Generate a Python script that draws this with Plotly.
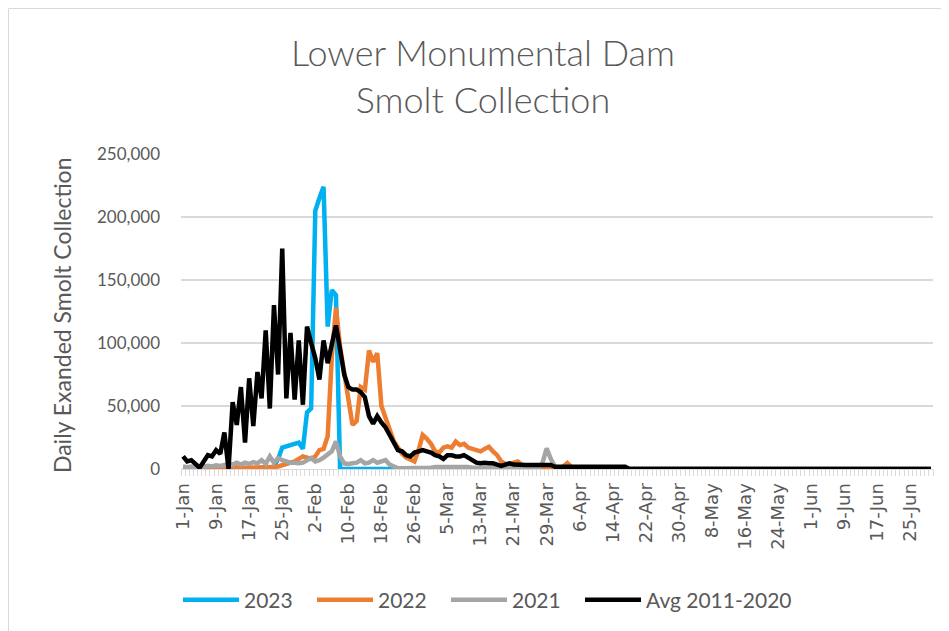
import plotly.graph_objects as go
import pandas as pd

# ---------------- data ----------------
# daily categories, 1-Jan .. 30-Jun (leap-year calendar, as in the chart: 26-Feb -> 5-Mar is 8 days)
dates = pd.date_range("2020-01-01", "2020-06-30", freq="D")

avg_2011_2020 = [
    10000, 6000, 7000, 4500, 1000, 6000, 11000, 10000, 15000, 12000,
    29000, 0, 53000, 35000, 65000, 21000, 72000, 34000, 77000, 56000,
    110000, 48000, 130000, 75000, 175000, 56000, 108000, 55000, 102000, 51000,
    113000, 100000, 88000, 71000, 102000, 84000, 98000, 114000, 95000, 75000,
    65000, 63000, 63000, 61000, 57000, 42000, 36000, 42000, 37000, 33000,
    27000, 20000, 15000, 14000, 11000, 10000, 13000, 14000, 15000, 14000,
    13000, 11000, 10000, 8000, 11000, 11000, 10000, 10000, 11000, 9000,
    7000, 5000, 4500, 5000, 4500, 4500, 3500, 2500, 3500, 4500,
    3500, 3200, 3200, 3200, 3200, 3200, 3200, 3200, 3200, 3200,
    1800, 1800, 1800, 1800, 1800, 1800, 1800, 1800, 1800, 1800,
    1800, 1800, 1800, 1800, 1800, 1800, 1800, 1800, 0, 0,
    0, 0, 0, 0, 0, 0, 0, 0, 0, 0,
    0, 0, 0, 0, 0, 0, 0, 0, 0, 0,
    0, 0, 0, 0, 0, 0, 0, 0, 0, 0,
    0, 0, 0, 0, 0, 0, 0, 0, 0, 0,
    0, 0, 0, 0, 0, 0, 0, 0, 0, 0,
    0, 0, 0, 0, 0, 0, 0, 0, 0, 0,
    0, 0, 0, 0, 0, 0, 0, 0, 0, 0,
    0, 0,
]

y2023 = [
    0, 0, 0, 0, 0, 0, 0, 0, 0, 0,
    0, 0, 0, 0, 0, 0, 0, 0, 0, 0,
    0, 0, 2000, 8000, 17000, 18000, 19000, 20000, 21000, 16000,
    45000, 48000, 205000, 215000, 224000, 113000, 142000, 138000, 0, 0,
    0, 0, 0, 0, 0, 0, 0, 0, 0, 0,
    0, 0, 0, 0, 0, 0, 0, 0, 0, 0,
    0, 0, 0, 0, 0, 0, 0, 0, 0, 0,
    0, 0, 0, 0, 0, 0, 0, 0, 0, 0,
    0, 0, 0, 0, 0, 0, 0, 0, 0, 0,
    0, 0, 0, 0, 0, 0, 0, 0, 0, 0,
    0, 0, 0, 0, 0, 0, 0, 0, 0, 0,
    0, 0, 0, 0, 0, 0, 0, 0, 0, 0,
    0, 0, 0, 0, 0, 0, 0, 0, 0, 0,
    0, 0, 0, 0, 0, 0, 0, 0, 0, 0,
    0, 0, 0, 0, 0, 0, 0, 0, 0, 0,
    0, 0, 0, 0, 0, 0, 0, 0, 0, 0,
    0, 0, 0, 0, 0, 0, 0, 0, 0, 0,
    0, 0, 0, 0, 0, 0, 0, 0, 0, 0,
    0, 0,
]

y2022 = [
    1000, 500, 1000, 500, 1000, 1500, 1000, 500, 1000, 1500,
    1000, 500, 1000, 1500, 1000, 1000, 1500, 1000, 1500, 1000,
    1500, 1000, 1500, 2000, 3000, 4000, 5000, 6000, 8000, 10000,
    9000, 8000, 10000, 15000, 16000, 26000, 89000, 128000, 97000, 75000,
    55000, 35000, 38000, 65000, 63000, 94000, 85000, 92000, 50000, 40000,
    30000, 22000, 17000, 12000, 9000, 7000, 6000, 15000, 27000, 24000,
    20000, 14000, 13000, 17000, 18000, 17000, 21700, 19000, 20000, 17000,
    16000, 15000, 14000, 16000, 17700, 14000, 11000, 6000, 4000, 4000,
    5000, 6000, 3000, 2500, 2000, 1500, 500, 0, 0, 0,
    0, 500, 2000, 4700, 1500, 0, 0, 0, 0, 0,
    0, 0, 0, 0, 0, 0, 0, 0, 0, 0,
    0, 0, 0, 0, 0, 0, 0, 0, 0, 0,
    0, 0, 0, 0, 0, 0, 0, 0, 0, 0,
    0, 0, 0, 0, 0, 0, 0, 0, 0, 0,
    0, 0, 0, 0, 0, 0, 0, 0, 0, 0,
    0, 0, 0, 0, 0, 0, 0, 0, 0, 0,
    0, 0, 0, 0, 0, 0, 0, 0, 0, 0,
    0, 0, 0, 0, 0, 0, 0, 0, 0, 0,
    0, 0,
]

y2021 = [
    2000, 1500, 2000, 1000, 1500, 2000, 2500, 2000, 3000, 2500,
    3000, 4000, 3500, 5000, 3500, 5000, 4000, 5500, 4500, 7000,
    4000, 10000, 5000, 8700, 7000, 6000, 5000, 5000, 4500, 5000,
    7000, 8700, 6000, 7000, 9000, 12000, 14000, 22000, 10000, 4500,
    4000, 4500, 5000, 7000, 4500, 5000, 7000, 5000, 6000, 7000,
    3500, 2000, 500, 500, 500, 500, 500, 500, 500, 500,
    1000, 1500, 1500, 2000, 2000, 2000, 2000, 2000, 2000, 1500,
    1000, 1000, 1000, 1000, 1000, 1000, 1000, 1000, 1000, 1000,
    1000, 1000, 1000, 1000, 1000, 1000, 1000, 5000, 16400, 8000,
    2000, 500, 500, 500, 500, 500, 500, 500, 500, 500,
    500, 500, 500, 500, 500, 500, 500, 500, 0, 0,
    0, 0, 0, 0, 0, 0, 0, 0, 0, 0,
    0, 0, 0, 0, 0, 0, 0, 0, 0, 0,
    0, 0, 0, 0, 0, 0, 0, 0, 0, 0,
    0, 0, 0, 0, 0, 0, 0, 0, 0, 0,
    0, 0, 0, 0, 0, 0, 0, 0, 0, 0,
    0, 0, 0, 0, 0, 0, 0, 0, 0, 0,
    0, 0, 0, 0, 0, 0, 0, 0, 0, 0,
    0, 0,
]

series_names = ["2023", "2022", "2021", "Avg 2011-2020"]
series_values = [y2023, y2022, y2021, avg_2011_2020]
series_colors = ["#00B0F0", "#ED7D31", "#A5A5A5", "#000000"]

# ---------------- figure ----------------
# the page body has an 8px margin, so the figure occupies page x 8..949, y 8..631
W, H = 941, 623
L, R, T, B = 173, 925, 146, 461  # plot area in figure pixels
PW, PH = R - L, B - T


def px_x(x):
    return (x - L) / PW


def px_y(y):
    return (B - y) / PH


fig = go.Figure()
for name, vals, color in zip(series_names, series_values, series_colors):
    fig.add_trace(go.Scatter(
        x=dates, y=vals, mode="lines", name=name,
        line=dict(color=color, width=4.5),
        legendwidth=160 if name.startswith("Avg") else 63,
    ))

grey = "#595959"
day = 86400000

fig.update_layout(
    width=W, height=H,
    margin=dict(l=L, r=W - R, t=T, b=H - B, autoexpand=False),
    paper_bgcolor="white", plot_bgcolor="white",
    font=dict(family="Lato", color=grey),
    showlegend=True,
    legend=dict(
        orientation="h",
        x=px_x(170), xanchor="left",
        y=px_y(592), yanchor="middle",
        font=dict(family="Lato", size=21, color=grey),
        itemwidth=56,
        bgcolor="rgba(0,0,0,0)",
    ),
    xaxis=dict(
        type="date",
        range=[dates[0] - pd.Timedelta(hours=12), dates[-1] + pd.Timedelta(hours=12)],
        tick0=dates[0], dtick=8 * day,
        tickformat="%-d-%b",
        tickangle=-90,
        tickfont=dict(family="DejaVu Sans", size=18, color=grey),
        ticks="",
        showgrid=False,
        showline=True, linecolor="#D9D9D9", linewidth=1,
        minor=dict(ticks="outside", dtick=day, tick0=dates[0] - pd.Timedelta(hours=12),
                   ticklen=6, tickcolor="#D9D9D9", tickwidth=1, showgrid=False),
        ticklabelstandoff=6,
        fixedrange=True,
    ),
    yaxis=dict(
        range=[0, 250000], dtick=50000, tick0=0,
        tickformat=",",
        tickfont=dict(family="Lato", size=17, color=grey),
        showgrid=True, gridcolor="#D9D9D9", gridwidth=1.5,
        zeroline=False, showline=False, ticks="",
        ticklabelstandoff=20,
        fixedrange=True,
    ),
    annotations=[
        dict(
            text="Lower Monumental Dam<br>Smolt Collection",
            showarrow=False, xref="paper", yref="paper",
            x=px_x(475), y=px_y(20), xanchor="center", yanchor="top",
            font=dict(family="Lato", size=36, color=grey, weight=300),
        ),
        dict(
            text="Daily Exanded Smolt Collection",
            textangle=-90, showarrow=False,
            xref="paper", yref="paper",
            x=px_x(54), y=px_y(307),
            xanchor="center", yanchor="middle",
            font=dict(family="Lato", size=23, color=grey),
        ),
    ],
    shapes=[dict(
        type="rect", xref="paper", yref="paper",
        x0=px_x(0.5), x1=px_x(1000),
        y0=px_y(700), y1=px_y(0.5),
        line=dict(color="#D9D9D9", width=1), fillcolor="rgba(0,0,0,0)",
        layer="below",
    )],
)

fig.write_html("out.html")
